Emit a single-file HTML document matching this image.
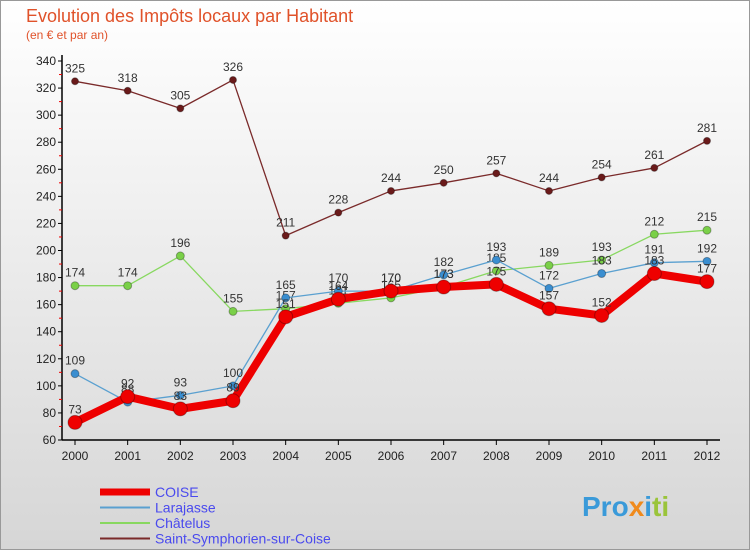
<!DOCTYPE html>
<html><head><meta charset="utf-8">
<style>
html,body{margin:0;padding:0;}
body{width:750px;height:550px;overflow:hidden;font-family:"Liberation Sans","DejaVu Sans",sans-serif;}
#wrap{position:absolute;left:0;top:0;width:748px;height:548px;border:1px solid #999;background:linear-gradient(#ffffff,#d6d6d6);}
</style></head><body>
<div id="wrap">
<svg id="chart" width="750" height="550" style="position:absolute;left:-1px;top:-1px">
<text x="26" y="22" font-size="18" fill="#e0522a">Evolution des Impôts locaux par Habitant</text>
<text x="26" y="39" font-size="12" fill="#e0522a">(en € et par an)</text>
<g id="axes"></g>
<g id="series"></g>
<g id="legend"></g>
<text x="582" y="516" font-size="28" font-weight="bold" fill="#3a9ad9">Pro<tspan fill="#f08a1c">x</tspan><tspan fill="#3a9ad9">i</tspan><tspan fill="#9ac43a">ti</tspan></text>
</svg>
</div>
<script>
const years=["2000","2001","2002","2003","2004","2005","2006","2007","2008","2009","2010","2011","2012"];
const yTicks=[60,80,100,120,140,160,180,200,220,240,260,280,300,320,340];
const coise=[73,92,83,89,151,164,170,173,175,157,152,183,177];
const larajasse=[109,88,93,100,165,170,170,182,193,172,183,191,192];
const chatelus=[174,174,196,155,157,161,165,173,185,189,193,212,215];
const saintSym=[325,318,305,326,211,228,244,250,257,244,254,261,281];
const NS="http://www.w3.org/2000/svg";
const X=i=>75+i*(707-75)/12;
const Y=v=>440-(v-60)*(440-61)/280;
function mk(tag,attrs,parent){const e=document.createElementNS(NS,tag);for(const k in attrs)e.setAttribute(k,attrs[k]);parent.appendChild(e);return e;}
const axes=document.getElementById('axes');
let yl=mk('line',{x1:62,y1:55,x2:62,y2:440,stroke:'#000','stroke-width':1.5},axes);


let xl=mk('line',{x1:62,y1:440,x2:720,y2:440,stroke:'#000','stroke-width':1.5},axes);


yTicks.forEach(v=>{
 mk('line',{x1:58,y1:Y(v),x2:62,y2:Y(v),stroke:'#000'},axes);
 if(v<340) mk('line',{x1:59,y1:Y(v+10),x2:62,y2:Y(v+10),stroke:'#e00'},axes);
 const t=mk('text',{x:56,y:Y(v)+4,'font-size':12,'text-anchor':'end',fill:'#222'},axes);
 t.textContent=v;
 
 
});
years.forEach((y,i)=>{
 mk('line',{x1:X(i),y1:440,x2:X(i),y2:445,stroke:'#000'},axes);
 const t=mk('text',{x:X(i),y:460,'font-size':12,'text-anchor':'middle',fill:'#222'},axes);
 t.textContent=y;
 
 
});
const ser=document.getElementById('series');
function draw(data,color,w,r,name,dot){
 const g=mk('g',{},ser);
 
 
 const p=mk('polyline',{points:data.map((v,i)=>X(i)+','+Y(v)).join(' '),fill:'none',stroke:color,'stroke-width':w,'stroke-linejoin':'round'},g);
 
 
 data.forEach((v,i)=>{
  const c=mk('circle',{cx:X(i),cy:Y(v),r:r,fill:dot,stroke:'rgba(0,0,0,0.3)'},g);
  
  
  const t=mk('text',{x:X(i),y:Y(v)-9,'font-size':12,'text-anchor':'middle',fill:'#333'},g);
  t.textContent=v;
  
  
 });
}
draw(chatelus,'#88d860',1.3,4,'chatelus','#7ad048');
draw(larajasse,'#5aa0d0',1.3,4,'larajasse','#3a8ed0');
draw(coise,'#ee0000',8,7,'coise','#ee0000');
draw(saintSym,'#7a2a2a',1.3,3.5,'saint-symphorien','#6a1a1a');
const leg=document.getElementById('legend');
const items=[["COISE","#ee0000",7],["Larajasse","#5aa0d0",2],["Châtelus","#88d860",2],["Saint-Symphorien-sur-Coise","#7a2a2a",2]];
items.forEach((it,i)=>{
 const y=492+i*15.5;
 const g=mk('g',{},leg);
 
 
 mk('line',{x1:100,y1:y,x2:150,y2:y,stroke:it[1],'stroke-width':it[2]},g);
 const t=mk('text',{x:155,y:y+5,'font-size':14,fill:'#4a4aee'},g);
 t.textContent=it[0];
 
 
});
</script>
</body></html>
